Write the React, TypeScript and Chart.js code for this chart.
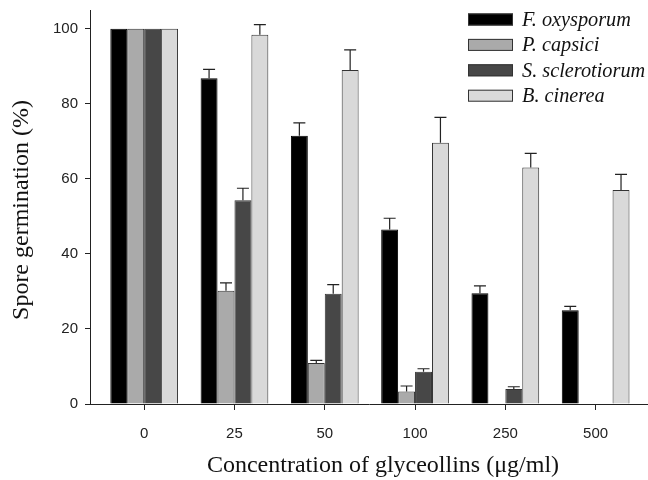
import React, { useEffect, useRef } from "react";
import { Chart, registerables } from "chart.js";

Chart.register(...registerables);

const categories = ["0", "25", "50", "100", "250", "500"];
const seriesNames = ["F. oxysporum", "P. capsici", "S. sclerotiorum", "B. cinerea"];
const fOxysporum = [100, 86.8, 71.5, 46.5, 29.5, 25.0];
const pCapsici = [100, 30.2, 10.9, 3.3, null, null];
const sSclerotiorum = [100, 54.3, 29.4, 8.6, 4.0, null];
const bCinerea = [100, 98.4, 89.0, 69.6, 63.0, 57.0];
const fOxysporumErr = [0, 2.4, 3.4, 3.0, 2.0, 1.0];
const pCapsiciErr = [0, 2.1, 0.7, 1.5, 0, 0];
const sSclerotiorumErr = [0, 3.2, 2.4, 0.8, 0.6, 0];
const bCinereaErr = [0, 2.7, 5.4, 6.8, 3.8, 4.2];
const yTicks = [0, 20, 40, 60, 80, 100];

const colors = ["#000000", "#aaaaaa", "#474747", "#d9d9d9"];
const AXIS = "#222222";

export default function App() {
  const ref = useRef<HTMLCanvasElement | null>(null);

  useEffect(() => {
    document.body.style.margin = "0";
    const canvas = ref.current;
    if (!canvas) return;
    const values = [fOxysporum, pCapsici, sSclerotiorum, bCinerea];
    const errs = [fOxysporumErr, pCapsiciErr, sSclerotiorumErr, bCinereaErr];

    const errorBars = {
      id: "errorBars",
      afterDatasetsDraw(chart: any) {
        const ctx = chart.ctx;
        const yScale = chart.scales.y;
        ctx.save();
        ctx.strokeStyle = AXIS;
        ctx.lineWidth = 1.2;
        chart.data.datasets.forEach((ds: any, di: number) => {
          const meta = chart.getDatasetMeta(di);
          meta.data.forEach((el: any, i: number) => {
            const v = values[di][i];
            const e = errs[di][i];
            if (v == null || !e) return;
            const top = yScale.getPixelForValue(v + e);
            ctx.beginPath();
            ctx.moveTo(el.x, el.y);
            ctx.lineTo(el.x, top);
            ctx.moveTo(el.x - 6, top);
            ctx.lineTo(el.x + 6, top);
            ctx.stroke();
          });
        });
        ctx.restore();
      },
    };

    const customText = {
      id: "customText",
      afterDraw(chart: any) {
        const ctx = chart.ctx;
        const ca = chart.chartArea;
        ctx.save();
        // legend
        const boxLeft = ca.right - 180;
        seriesNames.forEach((name, i) => {
          const cy = ca.top + 9.5 + i * 25.4;
          ctx.fillStyle = colors[i];
          ctx.fillRect(boxLeft, cy - 6, 45, 12);
          ctx.strokeStyle = "#333333";
          ctx.lineWidth = 1;
          ctx.strokeRect(boxLeft + 0.5, cy - 5.5, 44, 11);
          ctx.fillStyle = "#111111";
          ctx.font = "italic 20.3px 'Liberation Serif', serif";
          ctx.textAlign = "left";
          ctx.textBaseline = "middle";
          ctx.fillText(name, boxLeft + 54, cy + 1);
        });
        // axis titles
        ctx.fillStyle = "#111111";
        ctx.font = "24px 'Liberation Serif', serif";
        ctx.textAlign = "center";
        ctx.textBaseline = "middle";
        ctx.fillText("Concentration of glyceollins (\u03bcg/ml)", (ca.left + ca.right) / 2 + 14, ca.bottom + 62);
        ctx.translate(22, (ca.top + ca.bottom) / 2 + 3);
        ctx.rotate(-Math.PI / 2);
        ctx.fillText("Spore germination (%)", 0, 0);
        ctx.restore();
      },
    };

    const chart = new Chart(canvas, {
      type: "bar",
      data: {
        datasets: seriesNames.map((name, di) => ({
          label: name,
          data: categories.map((_, i) => ({ x: i, y: values[di][i] })) as any,
          backgroundColor: colors[di],
          borderColor: di === 0 ? "#000000" : "#333333",
          borderWidth: 1,
          categoryPercentage: 0.75,
          barPercentage: 1,
        })),
      },
      options: {
        animation: false,
        responsive: false,
        layout: { padding: { top: 10, left: 0, right: 0, bottom: 0 } },
        plugins: { legend: { display: false }, tooltip: { enabled: false } },
        scales: {
          x: {
            type: "linear",
            offset: false,
            min: -0.6,
            max: 5.58,
            afterFit: (s: any) => {
              s.height = 76;
              s.paddingLeft = 0;
              s.paddingRight = 0;
            },
            grid: { offset: false, drawOnChartArea: false, drawTicks: true, tickLength: 6, color: AXIS },
            border: { display: true, color: AXIS, width: 1 },
            ticks: {
              stepSize: 1,
              includeBounds: false,
              padding: 15,
              color: "#222222",
              font: { family: "'Liberation Sans', Arial, sans-serif", size: 15 },
              callback: (v: any) => (Number.isInteger(v) && categories[v] !== undefined ? categories[v] : ""),
            },
          },
          y: {
            min: 0,
            max: 105,
            afterFit: (s: any) => {
              s.width = 90;
              s.paddingTop = 0;
              s.paddingBottom = 0;
            },
            afterBuildTicks: (s: any) => {
              s.ticks = yTicks.map((v) => ({ value: v }));
            },
            grid: { drawOnChartArea: false, drawTicks: true, tickLength: 5, color: AXIS },
            border: { display: true, color: AXIS, width: 1 },
            ticks: {
              padding: 7,
              color: "#222222",
              font: { family: "'Liberation Sans', Arial, sans-serif", size: 15 },
            },
          },
        },
      },
      plugins: [errorBars, customText],
    });
    return () => chart.destroy();
  }, []);

  return <canvas ref={ref} width={648} height={480} style={{ display: "block" }} />;
}
